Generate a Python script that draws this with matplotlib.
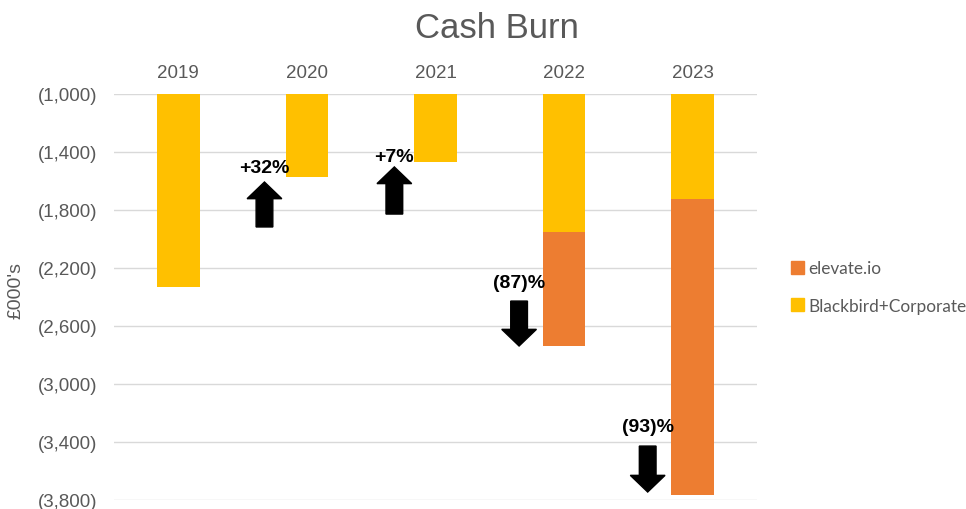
import matplotlib
matplotlib.use("Agg")
import matplotlib.pyplot as plt
from matplotlib.patches import FancyArrow, Patch
from matplotlib.ticker import FuncFormatter

years = ["2019", "2020", "2021", "2022", "2023"]
blackbird = [-2333, -1574, -1467, -1950, -1724]
elevate = [0, 0, 0, -790, -2042]

# change labels and arrows: (x position, label, tail y, tip y, label y)
changes = [
    (0.67, "+32%", -1917, -1607, -1510),
    (1.68, "+7%", -1828, -1503, -1428),
    (2.65, "(87)%", -2428, -2738, -2303),
    (3.65, "(93)%", -3428, -3745, -3290),
]

yellow = "#FFC000"
orange = "#ED7D31"
grey = "#595959"

plt.rcParams['font.family'] = ['Liberation Sans', 'DejaVu Sans']

fig = plt.figure(figsize=(9.66, 5.10), dpi=100)
ax = fig.add_axes([114/966, 1 - 501/510, 643/966, 406/510])

x = list(range(len(years)))
ax.bar(x, blackbird, width=0.33, color=yellow, zorder=2)
ax.bar(x, elevate, bottom=blackbird, width=0.33, color=orange, zorder=2)

ax.set_xlim(-0.5, 4.5)
ax.set_ylim(-3800, -1000)
ax.set_yticks(range(-3800, -999, 400))
ax.yaxis.set_major_formatter(FuncFormatter(lambda v, p: "({:,.0f})".format(abs(v))))
ax.grid(axis='y', color='#d9d9d9', linewidth=1.0, zorder=0)
ax.set_axisbelow(True)

ax.xaxis.tick_top()
ax.set_xticks(x)
ax.set_xticklabels(years)
ax.tick_params(axis='both', length=0, labelsize=13.5, labelcolor=grey)
ax.tick_params(axis='x', pad=9)
ax.tick_params(axis='y', pad=12)
for s in ax.spines.values():
    s.set_visible(False)

for xc, lab, tail, tip, ly in changes:
    ax.add_patch(FancyArrow(xc, tail, 0, tip - tail, width=0.13, head_width=0.27,
                            head_length=115, length_includes_head=True,
                            color='black', zorder=3))
    ax.text(xc, ly, lab, ha='center', va='center', fontsize=14,
            fontweight='bold', color='black', zorder=4)

fig.text(497/966, 1 - 29/510, "Cash Burn", ha='center', va='center',
         fontsize=25, color=grey)
fig.text(16/966, 1 - 291/510, "£000's", rotation=90, ha='center', va='center',
         fontsize=14, color=grey)

handles = [Patch(color=orange, label="elevate.io"),
           Patch(color=yellow, label="Blackbird+Corporate")]
fig.legend(handles=handles, loc='center left', bbox_to_anchor=(791/966, 1 - 288/510),
           frameon=False, handlelength=0.75, handleheight=0.75, handletextpad=0.25,
           labelspacing=1.25, borderpad=0, borderaxespad=0,
           prop={'family': 'Lato', 'size': 12.4}, labelcolor=grey)

fig.savefig("out.png", dpi=100)
